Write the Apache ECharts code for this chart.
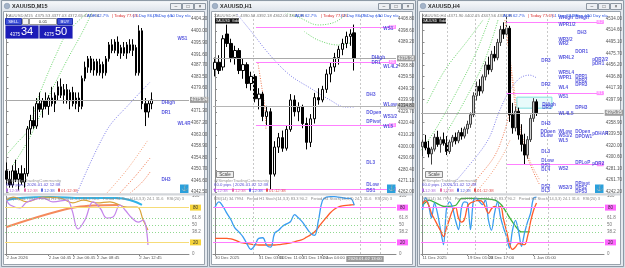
<!DOCTYPE html>
<html><head><meta charset="utf-8">
<script src="https://cdn.jsdelivr.net/npm/echarts@6/dist/echarts.min.js"></script>
<style>html,body{margin:0;padding:0;background:#d6dde5;}#c{width:625px;height:268px;}</style>
</head><body><div id="c"></div>
<script>
// ---------- DATA: candles [open, high, low, close] ----------
const m15Candles = [
[4350,4353,4345,4347],[4347,4350,4344,4345],[4345,4352,4344,4350],[4350,4354,4346,4347],
[4347,4351,4343,4349],[4349,4352,4345,4346],[4346,4351,4344,4349],[4349,4366,4348,4365],
[4365,4370,4363,4368],[4368,4373,4365,4366],[4366,4376,4365,4374],[4374,4378,4371,4372],
[4372,4376,4369,4375],[4375,4378,4372,4373],[4373,4377,4370,4376],[4376,4380,4373,4374],
[4374,4378,4371,4377],[4377,4382,4375,4380],[4380,4383,4376,4377],[4377,4381,4374,4379],
[4379,4381,4374,4375],[4375,4379,4372,4378],[4378,4380,4373,4374],[4374,4378,4372,4376],
[4376,4378,4371,4373],[4373,4384,4372,4383],[4383,4389,4382,4387],[4387,4391,4385,4390],
[4390,4391,4385,4386],[4386,4390,4384,4389],[4389,4390,4384,4385],[4385,4390,4384,4388],
[4388,4389,4383,4385],[4385,4391,4384,4390],[4390,4396,4389,4395],[4395,4397,4392,4393],
[4393,4397,4392,4396],[4396,4398,4391,4392],[4392,4395,4390,4394],[4394,4396,4391,4392],
[4392,4396,4390,4395],[4395,4397,4392,4393],[4393,4397,4391,4395],[4394,4395,4384,4385],
[4385,4402,4384,4400],[4400,4401,4372,4374],[4374,4376,4366,4371],[4371,4375,4369,4374],
[4374,4378,4372,4375.34]];
const h1Candles = [
[4366,4376,4360,4372],[4372,4378,4362,4365],[4368,4395,4365,4392],[4396,4404,4385,4388],
[4388,4392,4372,4376],[4376,4386,4370,4382],[4382,4384,4362,4365],[4365,4375,4358,4370],
[4370,4372,4350,4354],[4354,4364,4348,4360],[4360,4362,4338,4341],[4341,4350,4332,4345],
[4345,4347,4322,4326],[4326,4335,4318,4330],[4330,4333,4264,4277],[4277,4305,4275,4300],
[4300,4312,4295,4308],[4308,4314,4296,4299],[4299,4318,4297,4315],[4315,4345,4313,4340],
[4340,4344,4326,4330],[4330,4338,4322,4334],[4334,4336,4316,4320],[4320,4325,4298,4304],
[4304,4328,4300,4324],[4324,4346,4320,4342],[4342,4350,4336,4340],[4340,4352,4338,4349],
[4349,4366,4346,4362],[4362,4372,4355,4368],[4368,4380,4364,4376],[4376,4386,4370,4383],
[4383,4392,4378,4388],[4388,4398,4384,4394],[4394,4400,4386,4396],[4397,4404,4365,4375.35]];
const h4Candles = [
[4318,4330,4302,4326],[4326,4338,4312,4316],[4316,4328,4300,4306],[4306,4318,4288,4314],
[4314,4340,4310,4334],[4334,4345,4318,4322],[4322,4335,4308,4330],[4330,4342,4320,4324],
[4324,4336,4304,4310],[4310,4330,4306,4326],[4326,4338,4318,4334],[4334,4342,4322,4328],
[4328,4346,4324,4342],[4342,4350,4330,4336],[4336,4352,4332,4348],[4348,4362,4340,4356],
[4356,4376,4350,4372],[4372,4410,4368,4404],[4404,4428,4396,4420],[4420,4432,4404,4412],
[4412,4440,4408,4436],[4436,4462,4430,4456],[4456,4470,4440,4448],[4448,4480,4444,4474],
[4474,4488,4462,4468],[4468,4500,4464,4494],[4494,4522,4488,4516],[4516,4528,4500,4508],
[4508,4540,4504,4518],[4518,4522,4360,4372],[4372,4392,4340,4350],[4350,4386,4344,4378],
[4378,4384,4330,4338],[4338,4356,4310,4322],[4322,4340,4288,4304],[4304,4336,4298,4330],
[4330,4372,4326,4366],[4366,4400,4360,4394],[4394,4398,4370,4375.35]];

// ---------- tick labels ----------
const m15PriceTicks = [4404.20,4400.00,4395.90,4391.60,4387.70,4383.50,4379.60,4371.30,4367.20,4363.00,4358.90,4354.80,4350.70,4346.60,4342.50];
const h1PriceTicks = [4408.80,4398.60,4389.20,4368.80,4359.50,4349.30,4339.90,4329.70,4320.40,4310.20,4300.00,4290.60,4280.40,4271.10,4262.00];
const h4PriceTicks = [4534.00,4514.60,4495.10,4475.70,4456.20,4436.80,4417.30,4397.90,4358.90,4339.50,4320.00,4300.60,4281.10,4261.70,4242.20];
const m15TimeTicks = [[0,'2 Jan 2026'],[14,'2 Jan 04:45'],[22,'2 Jan 06:45'],[30,'2 Jan 08:45'],[37,'2 Jan 10:45'],[44,'2 Jan 12:45']];
const h1TimeTicks = [[0,'30 Dec 2025'],[5,'30 Dec 18:00'],[11,'31 Dec 03:00'],[16,'31 Dec 11:00'],[22,'31 Dec 19:00'],[27,'2 Jan 04:00'],[33,'2026.01.02 13:00',true]];
const h4TimeTicks = [[0,'11 Dec 2025'],[7,'16 Dec 05:00'],[15,'19 Dec 01:00'],[22,'23 Dec 17:00'],[30,'29 Dec 13:00'],[37,'1 Jan 05:00']];
const oscTicks = [100,61.8,50,38.2,0];

// ---------- overlays (index, price) ----------
const m15GreenA = [[0,4355.7],[3.5,4360],[7.1,4364.6],[11.1,4377.8],[16.7,4392.1],[20.1,4399.2],[26.7,4406.4]];
const m15GreenB = [[2.2,4352.1],[7.8,4362.1],[13.4,4375.3],[20.1,4389.6],[25,4399.2],[28.3,4406.4]];
const m15Purple = [[23.4,4342.1],[33.3,4364.6],[41,4374.2],[47.6,4381.7]];
const m15OrangeA = [[33.3,4342.1],[40,4350.5],[46.9,4361]];
const m15OrangeB = [[37.6,4342.1],[43,4348.5],[47.6,4354.6]];
const m15OrangeC = [[41,4342.1],[45,4346],[47.6,4349.6]];
const h1Purple = [[5.5,4413],[8.8,4399.4],[13.8,4378.2],[18.8,4361.2],[23.9,4350.2],[28.9,4340],[32.7,4334],[35.2,4334]];
const h1GreenA = [[17.6,4414],[21.4,4409.6],[25.9,4403.7],[30.2,4406.2],[33.4,4414]];
const h1GreenB = [[22.5,4398],[25.9,4390.9],[30.9,4386.7],[34.3,4388.6]];
const h1Orange = [[10.8,4371.3],[11.6,4354.4],[12.6,4331.4],[12.8,4314.4]];
const h4GreenA = [[1.5,4391.6],[7.5,4447.4],[15.2,4498.1],[20.2,4531.9]];
const h4GreenB = [[-0.5,4312.2],[4.2,4346],[10.8,4405.1],[17.5,4472.7],[22.5,4536.9]];
const h4GreenC = [[8.5,4346],[14.2,4396.7],[20.8,4464.3],[25.2,4531.9]];
const h4Purple = [[7.5,4239.5],[14.2,4278.4],[21.8,4329],[25.8,4379.8],[29.2,4413.6],[32.5,4433.8],[35.8,4438.9],[38.2,4433.8]];
const h4OrangeA = [[27.5,4531.9],[29.2,4464.3],[31.2,4379.8],[34.2,4312.2],[37.5,4270],[39.2,4253]];
const h4OrangeB = [[28.5,4498.1],[30.2,4430.5],[32.5,4354.4],[35.8,4295.3],[39.2,4261.5]];
const h4OrangeC = [[14.2,4239.5],[19.2,4269.9],[24.2,4303.7],[27.5,4346],[29.2,4379.8]];
const h4OrangeD = [[17.5,4239.5],[22.5,4269.9],[26.8,4303.7],[29.2,4329]];
const h4Box = [[31.5,4401.7],[43.2,4383.1]];

// ---------- levels ----------
const m15Last = 4375.34, h1Last = 4375.35, h4Last = 4375.35;
const h1Cross = 4334.8;
const h1PinkLevels = [[10.3,4402,'R2'],[10.3,4372.2,'R1'],[10.3,4318.7,'S1'],[-0.5,4264.3,'S2']];
const h4PinkLevels = [[28,4528.5,'R2'],[28,4408.5,'R1'],[28,4288.5,'S1']];
const h1Separators = [9.6,36.4,41.5];
const h4Separators = [8.2,17.5,28,41.8];

// ---------- oscillators ----------
const m15OscCyan = [[0,93],[4.5,96.5],[14.4,98.3],[25.4,96.5],[36.6,96.5],[41.9,91.4],[44.9,84.5]];
const m15OscOrange = [[0,46.6],[23.4,81],[37,84.5]];
const m15OscGold = [[0,93],[2.2,98],[6.8,90],[12.1,98],[17.7,96.5],[22,88],[25.4,93],[30,88],[34.3,90],[40,81],[43.3,81],[45.3,58.6],[46.9,41.4]];
const m15OscViolet = [[0,93],[1.2,84.5],[4.5,79.3],[6.8,89.7],[12.1,96.5],[15.4,89.7],[20,93],[21.7,75.9],[23.7,43.1],[26,58.6],[28.7,89.7],[31,79.3],[33.3,62],[35.3,63.8],[37.6,84.5],[39.3,75.9],[41.6,62],[43.6,55],[45.3,58.6],[46.9,15.5]];
const h1OscBlue = [80,90,82,70,59,45,38,30,18,8,15,27,28,15,12,36,41,48,52,56,68,62,55,45,36,32,58,92,98,99,99,98,97,96,96,84];
const h1OscOrange = [27,27,27,27,26,24,21,19,18,17,16,15.5,15.5,15.5,15.5,15.5,16,17,18,19,21,23,25,29,33,38,46,55,63,71,77,81,83,84,84.5,85];
const h4OscBlue = [76,97,85,62,88,70,42,16,78,90,80,58,42,80,90,88,42,93,96,90,85,93,58,41,70,90,64,45,30,10,41,58,40,13,36,55,70,96,98];
const h4OscOrange = [87,92,85,70,60,50,40,30,45,60,75,80,62,55,60,82,88,90,92,92,90,80,70,78,82,80,82,60,40,18,8,12,18,17,16,30,55,75,88];
const h4OscGreen = [[0,84],[2.2,93],[7.2,82],[11.1,84],[13,96],[17.5,96],[24.2,93],[26.4,84],[33,38],[35.8,38]];

// ---------- pivot tags ----------
const m15Tags = [['WS1',56.5,4397.1],['DHigh',51.2,4374.2],['DR1',51.2,4370.7],['WL4R',56.5,4366.7],['DH3',51.2,4346.7]];
const h1Tags = [['WS1',42.2,4400.3],['DHigh',39.2,4375.6],['DR1',39.2,4371.4],['WL4L2',42.2,4368],['DH3',37.9,4344.2],['WLow',42.2,4335.7],['DOpen',37.9,4328.9],['WS1/2',42.2,4325.5],['DPivot',37.9,4321.2],['WL5',42.2,4317],['DL3',37.9,4286.4],['DLow',37.9,4267.7],['DS1',37.9,4263.3]];
const h4Tags = [['WHigh',45.2,4535.2],['DHigh',50.8,4535.2],['WPR1/2',45.2,4523.4],['DH3',51.5,4509.9],['WR3/2',45.2,4498.1],['WR2',45.2,4491.3],['DOR1',50.8,4477.8],['DR3',39.5,4462.6],['WR4L2',45.2,4467.6],['pDR2/2',56.5,4464.3],['pDR1',56.5,4457.5],['WR5L4',45.2,4442.3],['WPR1',45.2,4433.8],['DPR1',50.8,4435.5],['DPR2',50.8,4428.8],['DPR3',50.8,4422],['DR2',39.5,4422],['WL4',45.2,4416.9],['WS1',45.2,4401.7],['DHigh',39.8,4388.2],['DR1',39.8,4383.1],['WL4L5',45.2,4373],['DPH3',50.8,4383.1],['DH3',39.5,4356.1],['DOpen',39.2,4342.6],['DLow',39.2,4335.8],['WLow',45.2,4342.6],['WS1/2',45.2,4335.8],['WL5',45.2,4329],['DOpen',50.8,4342.6],['DPOW1',50.8,4334.1],['pDHAR',56.5,4339.2],['DL3',39.5,4308.8],['DLow',39.5,4293.6],['DS1',39.5,4286.8],['DL4',39.5,4280],['DPLoP',50.8,4291.9],['pDR2',56.5,4290.2],['WS2',45.2,4281.7],['DS2',39.5,4251.3],['DL5',39.5,4244.6],['WS2/3',45.2,4249.6],['DPivot',50.8,4256.4],['DPS2',50.8,4249.6],['DPS3',50.8,4242.9]];

// ---------- build ----------
const FONT = 'Liberation Sans';
const grids=[], xAxes=[], yAxes=[], series=[];
const dot = [1,1.5];
function lineS(xi, yi, data, color, width, type, smooth){
  return {type:'line', xAxisIndex:xi, yAxisIndex:yi, data, symbol:'none', smooth: smooth===undefined?0.35:smooth, silent:true,
    lineStyle:{color, width, type: type||'solid'}, z:3};
}
function addPanel(cfg){
  const gMain = grids.length, gOsc = gMain+1;
  grids.push({left:cfg.left, top:14, width:cfg.width, height:179});
  grids.push({left:cfg.left, top:196, width:cfg.width, height:58});
  const xCat = xAxes.length;
  xAxes.push({type:'category', gridIndex:gMain, data:Array.from({length:cfg.slots},(_,i)=>'c'+i), show:false, boundaryGap:true});
  const xVal = xAxes.length;
  xAxes.push({type:'value', gridIndex:gMain, min:-0.5, max:cfg.slots-0.5, show:false});
  const xOsc = xAxes.length;
  const tmap = {}; cfg.timeTicks.forEach(t=>{tmap[t[0]] = t[2] ? '{hl|'+t[1]+'}' : t[1];});
  xAxes.push({type:'value', gridIndex:gOsc, min:-0.5, max:cfg.slots-0.5, splitLine:{show:false},
    axisLine:{show:true, lineStyle:{color:'#8a8a8a', width:1}},
    axisTick:{show:true, length:2, customValues:cfg.timeTicks.filter(t=>!t[2]).map(t=>t[0]), lineStyle:{color:'#8a8a8a'}},
    axisLabel:{customValues:cfg.timeTicks.map(t=>t[0]), formatter:v=>tmap[v]||'', fontSize:4.3, fontFamily:FONT, color:'#555', align:'left', margin:2,
      hideOverlap:false, showMinLabel:true, showMaxLabel:true,
      rich:{hl:{backgroundColor:'#9b9b9b', color:'#fff', fontSize:4.3, padding:[1,2]}}}});
  const yMain = yAxes.length;
  yAxes.push({type:'value', gridIndex:gMain, position:'right', min:cfg.ymin, max:cfg.ymax, splitLine:{show:false},
    axisLine:{show:true, lineStyle:{color:'#8a8a8a'}}, axisTick:{show:true, length:2, customValues:cfg.priceTicks, lineStyle:{color:'#8a8a8a'}},
    axisLabel:{customValues:cfg.priceTicks, formatter:v=>v.toFixed(2), fontSize:4.5, fontFamily:FONT, color:'#555', margin:2, hideOverlap:false}});
  const yOsc = yAxes.length;
  yAxes.push({type:'value', gridIndex:gOsc, position:'right', min:0, max:100, splitLine:{show:false},
    axisLine:{show:true, lineStyle:{color:'#8a8a8a'}}, axisTick:{show:false},
    axisLabel:{customValues:oscTicks, formatter:v=>String(v), fontSize:4.5, fontFamily:FONT, color:'#777', margin:3, hideOverlap:false}});

  // candles
  series.push({type:'candlestick', xAxisIndex:xCat, yAxisIndex:yMain, data:cfg.candles.map(c=>[c[0],c[3],c[2],c[1]]),
    barWidth:cfg.barW, silent:true, z:4,
    itemStyle:{color:cfg.upFill, color0:'#000000', borderColor:cfg.upBorder, borderColor0:'#000000', borderWidth:1}});
  // overlays
  cfg.overlays.forEach(o=>series.push(lineS(xVal, yMain, o[0], o[1], 1, dot)));
  // main levels
  const mlData = [];
  mlData.push({yAxis:cfg.last, lineStyle:{color:'#a9a9a9', width:1, type:'solid'},
    label:{show:true, position:'end', formatter:cfg.last.toFixed(2), backgroundColor:'#9d9d9d', color:'#fff', fontSize:4.5, padding:[1,1,0,1], distance:1}});
  (cfg.grayLevels||[]).forEach(p=>mlData.push({yAxis:p, lineStyle:{color:'#b5b5b5', width:1, type:'solid'},
    label:{show:true, position:'end', formatter:p.toFixed(2), backgroundColor:'#c4c4c4', color:'#333', fontSize:4.5, padding:[1,1,0,1], distance:1}}));
  (cfg.pink||[]).forEach(l=>mlData.push([{coord:[l[0], l[1]], lineStyle:{color:'#ff80ff', width:1, type:'solid'},
      label:{show:true, position:'insideEnd', formatter:l[2], backgroundColor:'#ff8cff', color:'#fff', fontSize:4, padding:[0,1], distance:0}},
    {coord:[cfg.slots-0.5, l[1]]}]));
  (cfg.seps||[]).forEach(x=>mlData.push({xAxis:x, lineStyle:{color:'#c8c8c8', width:1, type:[2,2]}, label:{show:false}}));
  series.push({type:'line', xAxisIndex:xVal, yAxisIndex:yMain, data:[], symbol:'none', silent:true, z:2,
    markLine:{symbol:['none','none'], silent:true, animation:false, data:mlData},
    markArea: cfg.box ? {silent:true, itemStyle:{color:'rgba(150,235,235,0.22)', borderColor:'#7fdede', borderWidth:1},
      data:[[{coord:cfg.box[0]},{coord:cfg.box[1]}]]} : undefined});
  // tags
  series.push({type:'scatter', xAxisIndex:xVal, yAxisIndex:yMain, symbolSize:1, itemStyle:{color:'rgba(0,0,0,0)'}, silent:true, z:6,
    labelLayout:{hideOverlap:false},
    data:cfg.tags.map(t=>({name:t[0], value:[t[1],t[2]]})),
    label:{show:true, formatter:'{b}', position:'right', distance:0, fontSize:4.6, fontWeight:'bold', fontFamily:FONT, color:'#2c2cd6'}});
  // oscillator
  const lc = cfg.levelColor;
  const oscML = [
    {yAxis:80, lineStyle:{color:lc, width:1, type:'solid'}, label:{show:true, position:'end', formatter:'80', backgroundColor:cfg.levelBox, color:'#333', fontSize:4.5, padding:[1,3,0,3], distance:1}},
    {yAxis:20, lineStyle:{color:lc, width:1, type:'solid'}, label:{show:true, position:'end', formatter:'20', backgroundColor:cfg.levelBox, color:'#333', fontSize:4.5, padding:[1,3,0,3], distance:1}},
    {yAxis:61.8, lineStyle:{color:'#8fd88f', width:1, type:[1,2]}, label:{show:false}},
    {yAxis:50, lineStyle:{color:'#8fd88f', width:1, type:[1,2]}, label:{show:false}},
    {yAxis:38.2, lineStyle:{color:'#8fd88f', width:1, type:[1,2]}, label:{show:false}}];
  (cfg.seps||[]).forEach(x=>oscML.push({xAxis:x, lineStyle:{color:'#c8c8c8', width:1, type:[2,2]}, label:{show:false}}));
  series.push({type:'line', xAxisIndex:xOsc, yAxisIndex:yOsc, data:[], symbol:'none', silent:true, z:2,
    markLine:{symbol:['none','none'], silent:true, animation:false, data:oscML}});
  cfg.osc.forEach(o=>series.push(lineS(xOsc, yOsc, o[0], o[1], o[2], 'solid', o[3])));
}

const idx = a => a.map((v,i)=>[i,v]);
addPanel({left:5, width:184, slots:61, ymin:4342.1, ymax:4406.0, candles:m15Candles, priceTicks:m15PriceTicks, timeTicks:m15TimeTicks,
  barW:2, upFill:'#ffffff', upBorder:'#000000', last:m15Last, tags:m15Tags,
  overlays:[[m15GreenA,'#66d466'],[m15GreenB,'#66d466'],[m15Purple,'#7d7de8'],[m15OrangeA,'#f4a07a'],[m15OrangeB,'#f07850'],[m15OrangeC,'#f07850']],
  levelColor:'#f6dc78', levelBox:'#f6d43a',
  osc:[[m15OscOrange,'#f58a5c',2.2,0.3],[m15OscCyan,'#2fb4e8',2,0.4],[m15OscGold,'#d9a43a',1.2,0.4],[m15OscViolet,'#c486ea',1.2,0.4]]});
addPanel({left:213, width:183, slots:46, ymin:4261, ymax:4413, candles:h1Candles, priceTicks:h1PriceTicks, timeTicks:h1TimeTicks,
  barW:3, upFill:'#ffffff', upBorder:'#000000', last:h1Last, grayLevels:[h1Cross], pink:h1PinkLevels, seps:h1Separators, tags:h1Tags,
  overlays:[[h1Purple,'#7d7de8'],[h1GreenA,'#66d466'],[h1GreenB,'#66d466'],[h1Orange,'#f07850']],
  levelColor:'#ff7cff', levelBox:'#ff66ff',
  osc:[[idx(h1OscOrange),'#ff5a2a',1.3,0.3],[idx(h1OscBlue),'#3a9cf0',1.3,0.4]]});
addPanel({left:421, width:183, slots:61, ymin:4240, ymax:4542, candles:h4Candles, priceTicks:h4PriceTicks, timeTicks:h4TimeTicks,
  barW:2, upFill:'#d0d0d0', upBorder:'#404040', last:h4Last, pink:h4PinkLevels, seps:h4Separators, tags:h4Tags, box:h4Box,
  overlays:[[h4GreenA,'#66d466'],[h4GreenB,'#66d466'],[h4GreenC,'#66d466'],[h4Purple,'#7d7de8'],[h4OrangeA,'#f07850'],[h4OrangeB,'#f4a07a'],[h4OrangeC,'#f07850'],[h4OrangeD,'#f4a07a']],
  levelColor:'#ff7cff', levelBox:'#ff66ff',
  osc:[[h4OscGreen,'#3cb43c',1.3,0.2],[idx(h4OscBlue),'#3a9cf0',1.3,0.3],[idx(h4OscOrange),'#ff5a2a',1.3,0.4]]});

// ---------- window chrome ----------
const G = [];
function rect(x,y,w,h,fill,stroke,z){G.push({type:'rect', shape:{x,y,width:w,height:h}, style:{fill:fill||'none', stroke:stroke||null, lineWidth:1}, z:(z===undefined?-5:z), silent:true});}
function text(x,y,t,fill,size,opt,z){G.push({type:'text', x, y, style:Object.assign({text:t, fill, fontSize:size, fontFamily:FONT, verticalAlign:'middle', align:'left'}, opt||{}), z:(z===undefined?60:z), silent:true});}
const wins = [{x0:1,x1:207,t:'XAUUSD,M15',px:5,pr:189},{x0:209,x1:415,t:'XAUUSD,H1',px:213,pr:396},{x0:417,x1:623,t:'XAUUSD,H4',px:421,pr:604}];
const topInfo = ['4375.53 4377.03 4372.65 4375.34','4390.53 4392.18 4362.00 4375.35','4371.90 4402.15 4347.56 4375.35'];
const adrX = [[87,112,133,153,168],[295,321,341,361,376],[503,528,552,570,585]];
wins.forEach((w,k)=>{
  rect(w.x0+0.5,0.5,w.x1-w.x0,266,'#e4e9ef','#8e9aa6',-10);
  G.push({type:'rect', shape:{x:w.x0+1.5,y:1.5,width:w.x1-w.x0-2,height:9}, style:{fill:new echarts.graphic.LinearGradient(0,0,0,1,[{offset:0,color:'#f6f8fa'},{offset:1,color:'#dfe5ec'}])}, z:-9, silent:true});
  G.push({type:'circle', shape:{cx:w.x0+6, cy:6, r:2.8}, style:{fill:'#a3b3c8', stroke:'#7d8ea6', lineWidth:0.5}, z:-8, silent:true});
  text(w.x0+11,6.2,w.t,'#2b2b2b',5.5,{fontWeight:'bold'});
  const sy=['\u2013','\u25a1','\u00d7'];
  for(let b=0;b<3;b++){ rect(w.x1-37+b*12+0.5,3.5,11,6,'#eceff3','#8e98a3',-8); text(w.x1-37+b*12+6,6.5,sy[b],'#444',5,{align:'center'}); }
  rect(w.x0+2.5,11.5,w.x1-w.x0-5,253,'#ffffff','#9aa3ad',-7);
  rect(w.x0+3,193.2,w.x1-w.x0-6,2.4,'#d3d6da',null,10);
  text(w.px+1,16.3,w.t+'  '+topInfo[k],'#777',4.2);
  const ax = adrX[k];
  text(ax[0],16.3,'ADR 62.7%','#2a55e0',4.2);
  text(ax[1],16.3,'| Today 77.6%','#d83030',4.2);
  text(ax[2],16.3,'| 1 Day 86.0%','#2a55e0',4.2);
  text(ax[3],16.3,'| 5 Day n/a','#2a55e0',4.2);
  text(ax[4],16.3,'| 10 Day n/a','#2a55e0',4.2);
  rect(w.pr-9,184.5,8.5,8.5,'#2aa0dc',null,20);
  text(w.pr-4.8,188.8,'\u2693','#ffffff',6,{align:'center'},21);
  text(w.px+1,181.2,'@SimplerTradingCommunity','#9a9a9a',4.3);
  text(w.px+1,185.3,'60.0 pips | 2026.01.02 12:38','#5a4fd6',4.3);
  const cols=['#b070e0','#e06aa8','#5566e0','#e05050'], tms=['12:38','12:38','12:38','01:12:38'], offs=[0,18,35,52];
  for(let j=0;j<4;j++){ rect(w.px+1+offs[j],188.6,2,3.2,cols[j],null,60); text(w.px+4+offs[j],190.4,tms[j],cols[j],4.3); }
  G.push({type:'text', x:w.px+1, y:199.2, style:{text:'RSI(14) 34.7994   Period H1 Stoch(14,3,3) 83.3 90.2   Period H4 Stoch(14,3,3) 24.1 31.6   RSI(20) 37.6029   Period',
    fill:'#8a8a8a', fontSize:4, fontFamily:FONT, verticalAlign:'middle', width:w.pr-w.px-3, overflow:'truncate', ellipsis:''}, z:60, silent:true});
});
[215,422].forEach(x=>{ rect(x,18.3,24,5.2,'#161616',null,20); text(x+1,21,'XAUUSD  Gold Spot','#ffffff',3.4,{},21); });
[216,425].forEach(x=>{ rect(x+0.5,171.5,17,6,'#efefef','#8c8c8c',20); text(x+9,174.6,'Scale','#444',4.5,{align:'center'},21); });
rect(5,18,68,21,'#dfe3ea',null,20);
rect(5.5,18.5,16,6,'#3d4fd9','#2233aa',21); text(13.5,21.6,'SELL','#ffffff',4.3,{align:'center'},22);
rect(22.5,18.5,6,6,'#f3f3f3','#9a9a9a',21);
rect(29.5,18.5,27,6,'#ffffff','#9a9a9a',21); text(43,21.6,'0.01','#333',4.3,{align:'center'},22);
rect(57.5,18.5,15,6,'#3d4fd9','#2233aa',21); text(65,21.6,'BUY','#ffffff',4.3,{align:'center'},22);
rect(5.5,25.5,33,13,'#1c1cb8',null,21); rect(39.5,25.5,33,13,'#1c1cb8',null,21);
text(10,34.5,'4375','#ffffff',4.5,{},22); text(21,32.2,'34','#ffffff',11,{},22);
text(44,34.5,'4375','#ffffff',4.5,{},22); text(55,32.2,'50','#ffffff',11,{},22);

const chart = echarts.init(document.getElementById('c'), null, {renderer:'canvas', width:625, height:268});
chart.setOption({animation:false, backgroundColor:'#d6dde5', textStyle:{fontFamily:FONT},
  grid:grids, xAxis:xAxes, yAxis:yAxes, series, graphic:{elements:G}});
</script></body></html>
